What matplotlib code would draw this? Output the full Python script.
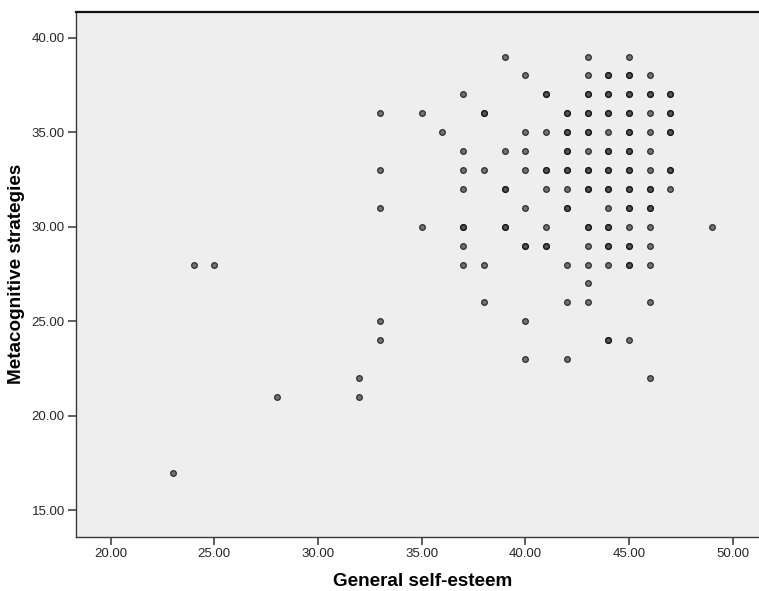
import numpy as np
import matplotlib
matplotlib.use("Agg")
import matplotlib.pyplot as plt

plt.rcParams['font.family'] = ['Liberation Sans', 'DejaVu Sans']

# General self-esteem (x), Metacognitive strategies (y), number of cases at that spot
gse = [39, 43, 45,
       40, 43, 44, 45, 46,
       37, 41, 43, 44, 45, 46, 47,
       33, 35, 38, 42, 43, 44, 45, 46, 47,
       36, 40, 41, 42, 43, 44, 45, 46, 47,
       37, 39, 40, 42, 43, 44, 45, 46,
       33, 37, 38, 40, 41, 42, 43, 44, 45, 46, 47,
       37, 39, 41, 42, 43, 44, 45, 46, 47,
       33, 40, 42, 44, 45, 46,
       35, 37, 39, 41, 43, 44, 45, 46, 49,
       37, 40, 41, 43, 44, 45, 46,
       24, 25, 37, 38, 42, 43, 44, 45, 46,
       43,
       38, 42, 43, 46,
       33, 40,
       33, 44, 45,
       40, 42,
       32, 46,
       28, 32,
       23]
meta = [39]*3 + [38]*5 + [37]*7 + [36]*9 + [35]*9 + [34]*8 + [33]*11 + [32]*9 \
     + [31]*6 + [30]*9 + [29]*7 + [28]*9 + [27]*1 + [26]*4 + [25]*2 + [24]*3 \
     + [23]*2 + [22]*2 + [21]*2 + [17]*1
cases = [1, 1, 1,
         1, 1, 2, 2, 1,
         1, 2, 2, 2, 2, 2, 2,
         1, 1, 2, 2, 2, 2, 2, 1, 2,
         1, 1, 1, 2, 2, 1, 2, 1, 2,
         1, 1, 1, 2, 1, 2, 2, 1,
         1, 1, 1, 1, 2, 2, 2, 2, 2, 1, 2,
         1, 2, 1, 1, 2, 2, 2, 2, 1,
         1, 1, 2, 1, 2, 2,
         1, 2, 2, 1, 2, 2, 1, 1, 1,
         1, 2, 2, 1, 2, 2, 1,
         1, 1, 1, 1, 1, 1, 1, 2, 1,
         1,
         1, 1, 1, 1,
         1, 1,
         1, 2, 1,
         1, 1,
         1, 1,
         1, 1,
         1]

xticks = [20, 25, 30, 35, 40, 45, 50]
yticks = [15, 20, 25, 30, 35, 40]

x = np.repeat(gse, cases)
y = np.repeat(meta, cases)

fig = plt.figure(figsize=(7.59, 5.91), dpi=100)
ax = fig.add_axes([76/759, 54.5/591, 694/759, 524.8/591])
ax.set_facecolor('#EEEEEE')

# overlapping cases stack up darker, like SPSS
ax.scatter(x, y, s=17, facecolor='#4a4a4a', edgecolor='#060606',
           linewidths=0.9, alpha=0.75, zorder=3)

ax.set_xlim(18.33, 51.8)
ax.set_ylim(13.62, 41.37)
ax.set_xticks(xticks)
ax.set_yticks(yticks)
ax.set_xticklabels(['%.2f' % v for v in xticks])
ax.set_yticklabels(['%.2f' % v for v in yticks])
ax.tick_params(direction='out', length=6, width=1.1, color='#333333',
               labelsize=9.5, labelcolor='#262626', pad=2)

for side in ['left', 'bottom']:
    ax.spines[side].set_color('#3a3a3a')
    ax.spines[side].set_linewidth(1.0)
ax.spines['top'].set_color('#111111')
ax.spines['top'].set_linewidth(1.6)
ax.spines['right'].set_visible(False)

ax.set_xlabel('General self-esteem', fontsize=13.6, fontweight='bold')
ax.set_ylabel('Metacognitive strategies', fontsize=13.6, fontweight='bold')
ax.xaxis.set_label_coords(0.5, -0.069)
ax.yaxis.set_label_coords(-0.073, 0.5)

fig.savefig('out.png', dpi=100)
